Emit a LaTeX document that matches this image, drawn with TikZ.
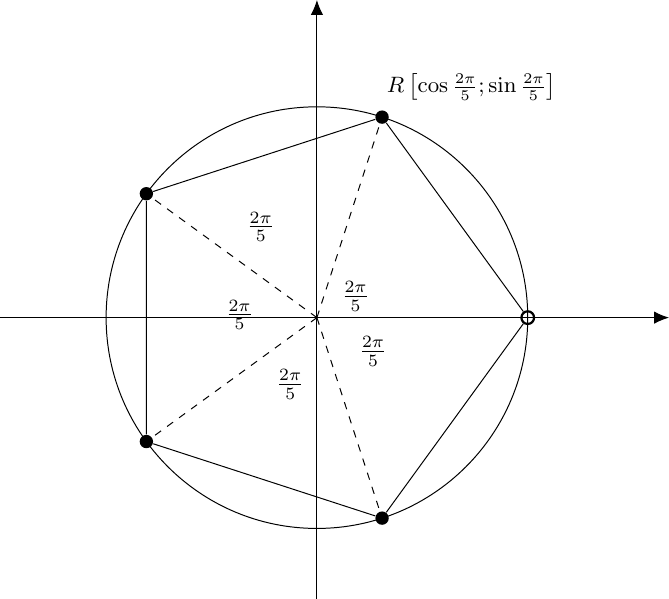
\documentclass[tikz,border=0pt]{standalone}
\usepackage{amsmath}
\usepackage{amssymb}
\usetikzlibrary{arrows.meta}
\newcommand{\angfrac}{\frac{2\pi}{5}}

\begin{document}
\begin{tikzpicture}[>={Latex[length=6pt,width=5pt]},
    dot/.style={circle, fill, inner sep=0pt, minimum size=0.19cm},
    opendot/.style={circle, draw, line width=0.9pt, inner sep=0pt, minimum size=0.18cm}]
        \useasboundingbox (-4.51,-4) rectangle (5.01,4.52);
        \coordinate (O) at (0,0);
        \coordinate (xl) at (-4.51,0);
        \coordinate (xr) at (5.01,0);
        \coordinate (yb) at (0,-4);
        \coordinate (yt) at (0,4.52);
		\draw[->] (xl) -- (xr);
		\draw[->] (yb) -- (yt);

        \draw (O) circle (3);

        \node[opendot] (p0) at (0:3) {};
        \foreach \i in {1,...,4}
            \node[dot] (p\i) at (72*\i:3) {};

		\draw (p0) -- (p1) -- (p2) -- (p3) -- (p4) -- (p0);
        \foreach \i in {1,...,4}
		    \draw[dashed] (O) -- (p\i);

        \draw (2.2,3.28) node[font=\small] (lbl) {$R\left[\cos\angfrac;\sin\angfrac\right]$};
        \draw (-0.80,1.29) node (a1) {$\angfrac$};
        \draw (0.55,0.30) node (a0) {$\angfrac$};
        \draw (-1.10,0.04) node (a2) {$\angfrac$};
        \draw (-0.38,-0.95) node (a3) {$\angfrac$};
        \draw (0.80,-0.48) node (a4) {$\angfrac$};
    \end{tikzpicture}
\end{document}
